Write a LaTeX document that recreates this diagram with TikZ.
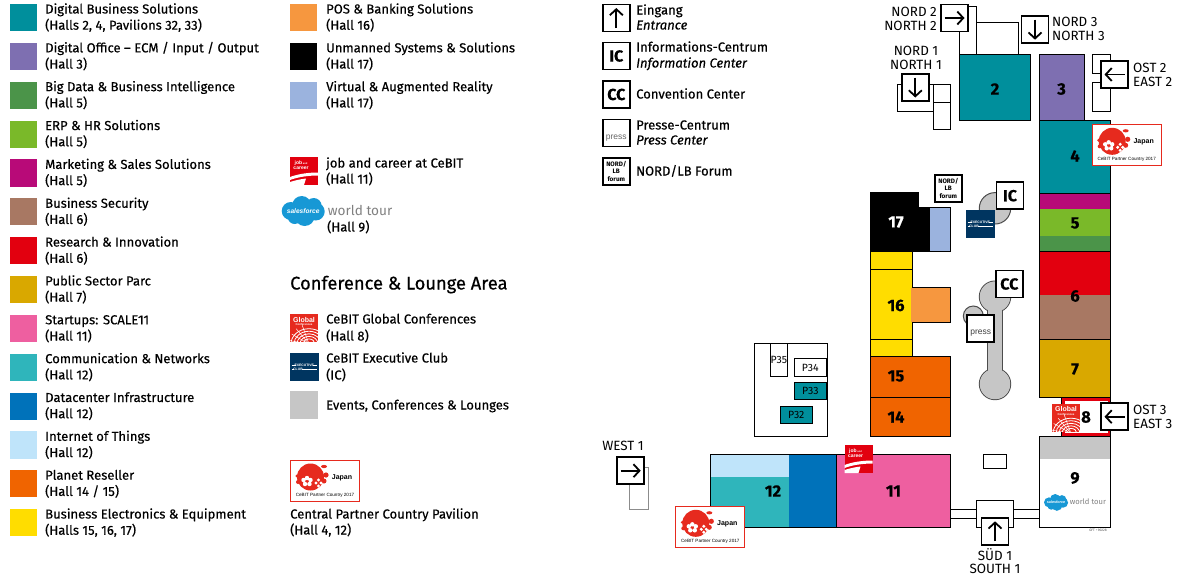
\documentclass[tikz,border=0pt]{standalone}
\usepackage{fontspec}
\usetikzlibrary{arrows.meta}
\setmainfont[FakeBold=0.35]{Fira Sans}
\newfontfamily\plainfont{Fira Sans}
\newfontfamily\headfont[FakeBold=0.5]{Fira Sans}
\newfontfamily\logofont{Liberation Sans}
\definecolor{cteal}{HTML}{008F9C}
\definecolor{cpurple}{HTML}{7E6FB1}
\definecolor{cdgreen}{HTML}{4B9449}
\definecolor{clime}{HTML}{7AB929}
\definecolor{cmag}{HTML}{B80A78}
\definecolor{cbrown}{HTML}{A87863}
\definecolor{cred}{HTML}{E2000F}
\definecolor{cgold}{HTML}{D9A800}
\definecolor{cpink}{HTML}{EE5FA0}
\definecolor{cturq}{HTML}{2FB5BB}
\definecolor{cblue}{HTML}{0072BA}
\definecolor{csky}{HTML}{BFE4FA}
\definecolor{corange}{HTML}{F06400}
\definecolor{cyellow}{HTML}{FFDD00}
\definecolor{cpos}{HTML}{F6973F}
\definecolor{clblue}{HTML}{9BB3DE}
\definecolor{cgray}{HTML}{C6C6C6}
\definecolor{cnavy}{HTML}{003560}
\definecolor{cjred}{HTML}{E62A1E}
\definecolor{csf}{HTML}{1798D5}
\tikzset{
  legtext/.style={anchor=base west,inner sep=0pt,font=\fontsize{13.05}{15}\selectfont,text=black},
  gatetext/.style={inner sep=0pt,font=\plainfont\fontsize{13.4}{16}\selectfont,text=black},
  hallnum/.style={inner sep=0pt,font=\fontsize{16.5}{18}\selectfont\bfseries,text=black},
  bld/.style={draw=black,line width=1pt,fill=white},
  gatebox/.style={draw=black,line width=1.6pt,fill=white},
  gatearrow/.style={draw=black,line width=1.8pt,-{Straight Barb[length=6pt,width=13pt,line width=1.8pt]}},
  pav/.style={inner sep=0pt,font=\plainfont\fontsize{10.5}{12}\selectfont,text=black},
}
\newcommand{\gate}[3]{\begin{scope}[shift={(#1+14,#2+14)}]
  \draw[gatebox] (-13.5pt,-13.5pt) rectangle (13.5pt,13.5pt);
  \begin{scope}[rotate=#3]\draw[gatearrow] (-10pt,0) -- (10pt,0);\end{scope}
\end{scope}}
\newcommand{\lbox}[3]{\begin{scope}[shift={(#1+14,#2+14)}]
  \draw[gatebox] (-13.5pt,-13.5pt) rectangle (13.5pt,13.5pt);
  #3
\end{scope}}
\newcommand{\icmark}[1]{\node[inner sep=0pt,font=\fontsize{16}{16}\selectfont\bfseries] at (0,0) {#1};}
\newcommand{\forummark}{\node[inner sep=0pt,align=center,font=\plainfont\fontsize{6.4}{7.6}\selectfont\bfseries] at (0,0) {NORD/\\LB\\forum};}
\newcommand{\japan}[2]{\begin{scope}[shift={(#1,#2)}]
  \draw[draw=cjred,line width=1pt,fill=white] (0.5,0.5) rectangle (69.5,41);
  \fill[cjred] (20.5,17) circle (13.5pt);
  \fill[cjred] (34,6.5) ellipse (3pt and 1.6pt) (36,15) circle (2.6pt) (34,21) circle (2.5pt) (8,22) circle (2pt) (7,16) circle (1.6pt);
  \fill[white] (17,18) circle (2.2pt) (13.5,20) circle (2.2pt) (20.5,20) circle (2.2pt) (15,24) circle (2.2pt) (19.5,24) circle (2.2pt);
  \fill[white] (28.5,20) circle (1.7pt) (26,23) circle (1.7pt) (31,23) circle (1.7pt) (28.5,26) circle (1.7pt);
  \node[inner sep=0pt,font=\logofont\bfseries\fontsize{7}{8}\selectfont] at (52,17.5) {Japan};
  \node[inner sep=0pt,font=\logofont\fontsize{4.6}{5}\selectfont] at (35,35.5) {CeBIT Partner Country 2017};
\end{scope}}
\newcommand{\jobcareer}[2]{\begin{scope}[shift={(#1,#2)}]
  \fill[cred] (0,0) rectangle (28,28);
  \node[inner sep=0pt,align=center,text=white,font=\logofont\bfseries\fontsize{5}{5.2}\selectfont] at (11,8.5) {job\,{\fontsize{2.5}{3}\selectfont and}\\career};
  \fill[white] (0,20) .. controls (8,17) and (18,15.5) .. (28,15.5) -- (28,18.5) .. controls (18,18.5) and (8,20) .. (0,23) -- cycle;
  \fill[white] (0,25) .. controls (6,23) and (12,22) .. (16,21.5) -- (14,28) -- (0,28) -- cycle;
\end{scope}}
\newcommand{\globalconf}[2]{\begin{scope}[shift={(#1,#2)}]
  \fill[cjred] (0,0) rectangle (28,28);
  \node[inner sep=0pt,text=white,font=\logofont\bfseries\fontsize{7}{7}\selectfont] at (14,5.5) {Global};
  \node[inner sep=0pt,text=white,font=\logofont\bfseries\fontsize{2.8}{3}\selectfont] at (14,10.5) {Conferences};
  \begin{scope}
    \clip (0,0) rectangle (28,28);
    \foreach \r in {6,9,12,15,18}{\draw[white,line width=0.8pt] (19,30) ellipse ({\r pt} and {\r*0.85 pt});}
    \foreach \a in {110,130,150,170}{\draw[white,line width=0.5pt] (19,30) -- +(\a:20pt);}
  \end{scope}
\end{scope}}
\newcommand{\execclub}[2]{\begin{scope}[shift={(#1,#2)}]
  \fill[cnavy] (0,0) rectangle (28.5,28);
  \node[inner sep=0pt,text=white,font=\logofont\bfseries\fontsize{3.4}{4}\selectfont] at (14.2,12) {EXECUTIVE};
  \node[inner sep=0pt,text=white,font=\logofont\bfseries\fontsize{3.4}{4}\selectfont] at (8,16.5) {CLUB};
  \draw[white,line width=0.4pt] (1.5,12) -- (5.5,12) (23,12) -- (27,12) (1.5,16.5) -- (4,16.5) (12,16.5) -- (27,16.5);
\end{scope}}
\newcommand{\salesforce}[3]{\begin{scope}[shift={(#1,#2)},scale=#3,transform shape]
  \fill[csf] (9,15) circle (9pt) (20,9.5) circle (9.5pt) (32,10) circle (8pt) (34,15.5) circle (9pt) (23,20) circle (10pt) (13,21) circle (7pt);
  \node[inner sep=0pt,text=white,font=\logofont\bfseries\itshape\fontsize{6.6}{7}\selectfont] at (21.5,15) {salesforce};
  \node[anchor=base west,inner sep=0pt,text=black!50,font=\plainfont\fontsize{13.6}{15}\selectfont] at (46,19) {world tour};
\end{scope}}
\begin{document}
\begin{tikzpicture}[x=1pt,y=-1pt]
\useasboundingbox (0,0) rectangle (1182,582);
\foreach \i/\c/\a/\b in {
 0/cteal/{Digital Business Solutions}/{(Halls 2, 4, Pavilions 32, 33)},
 1/cpurple/{Digital Office – ECM / Input / Output}/{(Hall 3)},
 2/cdgreen/{Big Data \& Business Intelligence}/{(Hall 5)},
 3/clime/{ERP \& HR Solutions}/{(Hall 5)},
 4/cmag/{Marketing \& Sales Solutions}/{(Hall 5)},
 5/cbrown/{Business Security}/{(Hall 6)},
 6/cred/{Research \& Innovation}/{(Hall 6)},
 7/cgold/{Public Sector Parc}/{(Hall 7)},
 8/cpink/{Startups: SCALE11}/{(Hall 11)},
 9/cturq/{Communication \& Networks}/{(Hall 12)},
 10/cblue/{Datacenter Infrastructure}/{(Hall 12)},
 11/csky/{Internet of Things}/{(Hall 12)},
 12/corange/{Planet Reseller}/{(Hall 14 / 15)},
 13/cyellow/{Business Electronics \& Equipment}/{(Halls 15, 16, 17)}}{
  \fill[\c] (10,{4+38.85*\i}) rectangle (37,{31.2+38.85*\i});
  \node[legtext] (la\i) at (45,{13.5+38.85*\i}) {\a};
  \node[legtext] (lb\i) at (45,{29.7+38.85*\i}) {\b};
}
\foreach \i/\c/\a/\b in {
 0/cpos/{POS \& Banking Solutions}/{(Hall 16)},
 1/black/{Unmanned Systems \& Solutions}/{(Hall 17)},
 2/clblue/{Virtual \& Augmented Reality}/{(Hall 17)}}{
  \fill[\c] (290,{4+38.85*\i}) rectangle (317,{31.2+38.85*\i});
  \node[legtext] (ma\i) at (326,{13.5+38.85*\i}) {\a};
  \node[legtext] (mb\i) at (326,{29.7+38.85*\i}) {\b};
}
\jobcareer{290}{157}
\node[legtext] (jc1) at (326,167.5) {job and career at CeBIT};
\node[legtext] (jc2) at (326,183.5) {(Hall 11)};
\salesforce{281.7}{196}{1}
\node[legtext] (sf2) at (327,231.5) {(Hall 9)};
\node[anchor=base west,inner sep=0pt,font=\headfont\fontsize{18.3}{20}\selectfont] (conf) at (290,289.5) {Conference \& Lounge Area};
\globalconf{290}{314}
\node[legtext] (gc1) at (326,323.5) {CeBIT Global Conferences};
\node[legtext] (gc2) at (326,340.5) {(Hall 8)};
\execclub{290}{353}
\node[legtext] (ec1) at (326,362.5) {CeBIT Executive Club};
\node[legtext] (ec2) at (326,379.5) {(IC)};
\fill[cgray] (290,391) rectangle (318,419);
\node[legtext] (ev) at (326,409.5) {Events, Conferences \& Lounges};
\japan{290}{460}
\node[legtext] (cp1) at (290,518.5) {Central Partner Country Pavilion};
\node[legtext] (cp2) at (290,534.5) {(Hall 4, 12)};
\gate{602.3}{4}{90}
\lbox{602.3}{42}{\icmark{IC}}
\lbox{602.3}{80.5}{\icmark{CC}}
\lbox{602.3}{119}{\node[inner sep=0pt,font=\logofont\fontsize{8.5}{9}\selectfont,text=black!60] at (0,-5pt) {press};}
\lbox{602.3}{157.3}{\forummark}
\node[legtext] (t1) at (636,14.5) {Eingang};
\node[legtext] (t2) at (636,29.5) {\itshape Entrance};
\node[legtext] (t3) at (636,51.5) {Informations-Centrum};
\node[legtext] (t4) at (636,67.5) {\itshape Information Center};
\node[legtext] (t5) at (636,98.5) {Convention Center};
\node[legtext] (t6) at (636,129.5) {Presse-Centrum};
\node[legtext] (t7) at (636,144.5) {\itshape Press Center};
\node[legtext] (t8) at (636,175.5) {NORD/LB Forum};
\draw[bld] (959.5,6) rectangle (976.7,54.5);
\draw[bld] (976.7,22.3) rectangle (1018.7,54.5);
\draw[bld] (897.3,84.3) rectangle (933.3,111.3);
\draw[bld] (933.3,84.3) rectangle (950.3,102.3);
\draw[bld] (933.3,102.3) rectangle (950.3,129.3);
\draw[bld] (1092.3,54.5) rectangle (1110.7,73.3);
\draw[bld] (1092.3,82.3) rectangle (1110.7,111.3);
\draw[draw=black!45,line width=1pt,fill=white] (629,467.3) rectangle (648.3,509.3);
\draw[bld,fill=cteal] (959.5,54.5) rectangle (1030.5,120.7);
\draw[bld,fill=cpurple] (1039.5,54.5) rectangle (1084,120.7);
\fill[cteal] (1039.5,120.7) rectangle (1110.5,193.5);
\fill[cmag] (1039.5,193.5) rectangle (1110.5,209);
\fill[clime] (1039.5,209) rectangle (1110.5,236);
\fill[cdgreen] (1039.5,236) rectangle (1110.5,251.7);
\fill[cred] (1039.5,251.7) rectangle (1110.5,295);
\fill[cbrown] (1039.5,295) rectangle (1110.5,339.3);
\fill[cgold] (1039.5,339.3) rectangle (1110.5,397.3);
\draw[black,line width=1pt] (1039.5,397.3) -- (1039.5,120.7) -- (1110.5,120.7) -- (1110.5,397.3) -- cycle
  (1039.5,193.5) -- (1110.5,193.5) (1039.5,251.7) -- (1110.5,251.7) (1039.5,339.3) -- (1110.5,339.3);
\draw[black,line width=1pt,fill=cred] (1061.3,397.3) rectangle (1110.5,436);
\fill[white] (1065,401) rectangle (1108,432.5);
\globalconf{1052}{403.5}
\draw[bld] (1039.5,436) rectangle (1110.5,527.3);
\fill[cgray] (1040,436.5) rectangle (1110,459);
\draw[black,line width=1pt] (1039.5,436) rectangle (1110.5,527.3);
\salesforce{1044}{494}{0.56}
\node[inner sep=0pt,font=\plainfont\fontsize{3.4}{3.4}\selectfont,text=black!70] (code) at (1098,530.5) {GFT • 90228};
\fill[black] (870.7,192.7) rectangle (930,251.7);
\fill[white] (919,192.7) rectangle (935,207.3);
\fill[clblue] (930,207.3) rectangle (950.7,251.7);
\draw[black,line width=1pt] (919,192.7) -- (870.7,192.7) -- (870.7,251.7) -- (950.7,251.7) -- (950.7,207.3) -- (930,207.3);
\fill[cyellow] (870.7,251.7) rectangle (912.3,356.3);
\draw[black,line width=1pt] (870.7,251.7) rectangle (912.3,356.3) (870.7,269.3) -- (912.3,269.3) (870.7,339.3) -- (912.3,339.3);
\draw[black,line width=1pt,fill=cpos] (912.3,287.3) rectangle (950.7,322.7);
\fill[cpos] (911,288) rectangle (913,322);
\draw[black,line width=1pt,fill=corange] (870.7,356.3) rectangle (950.7,397.3);
\draw[black,line width=1pt,fill=corange] (870.7,397.3) rectangle (950.7,436);
\draw[bld,fill=cpink] (836.3,454) rectangle (950.7,527.3);
\fill[cturq] (710,477) rectangle (789,527.3);
\fill[csky] (710,454) rectangle (789,477);
\fill[cblue] (789,454) rectangle (836.3,527.3);
\draw[black,line width=1pt] (710,454) rectangle (836.3,527.3);
\draw[bld] (950.7,509.3) rectangle (976.3,518.7);
\draw[bld] (1013.7,509.3) rectangle (1039.5,518.7);
\draw[bld] (976.3,500.3) rectangle (1013.7,527.3);
\draw[bld] (983.3,454.3) rectangle (1006.7,468.3);
\draw[bld] (754.7,343.7) rectangle (827.3,436.3);
\draw[bld] (770.3,343.7) rectangle (787.3,376.3);
\draw[bld] (794.3,358.3) rectangle (826.3,376.3);
\draw[bld,fill=cteal] (794.3,382.3) rectangle (826.3,399.7);
\draw[bld,fill=cteal] (780.3,406.3) rectangle (812.3,423.7);
\node[pav] (p35) at (778.8,360) {P35};
\node[pav] (p34) at (810.3,367.5) {P34};
\node[pav] (p33) at (810.3,391) {P33};
\node[pav] (p32) at (796.3,415) {P32};
\draw[draw=black!70,line width=1pt,fill=cgray] (995,208.3) circle (15.7pt);
\draw[draw=black!70,line width=1pt,fill=cgray] (973.3,316) circle (10pt);
\draw[draw=black!70,line width=1pt,fill=cgray] (995,296.7) circle (15.7pt);
\draw[draw=black!70,line width=1pt,fill=cgray] (995,384) circle (15.7pt);
\draw[draw=black!70,line width=1pt,fill=cgray] (987.7,300) rectangle (1002.3,375);
\fill[cgray] (995,296.7) circle (15.2pt) (995,384) circle (15.2pt) (988.2,300) rectangle (1001.8,376);
\execclub{966}{210}
\lbox{996}{181.7}{\icmark{IC}}
\lbox{995.3}{270}{\icmark{CC}}
\lbox{966.7}{314.3}{\node[inner sep=0pt,font=\logofont\fontsize{8.5}{9}\selectfont,text=black!75] at (0,-5pt) {press};}
\lbox{934.3}{174.3}{\forummark}
\japan{1091.7}{124.3}
\japan{675.3}{506.3}
\jobcareer{844.5}{445}
\node[hallnum] (h2) at (995,89) {2};
\node[hallnum] (h3) at (1061.5,89) {3};
\node[hallnum] (h4) at (1075,156) {4};
\node[hallnum] (h5) at (1075,223) {5};
\node[hallnum] (h6) at (1075,296) {6};
\node[hallnum] (h7) at (1075,369) {7};
\node[hallnum] (h8) at (1086,417) {8};
\node[hallnum] (h9) at (1075,478) {9};
\node[hallnum] (h11) at (893.5,491) {11};
\node[hallnum] (h12) at (773,491) {12};
\node[hallnum] (h14) at (896,417) {14};
\node[hallnum] (h15) at (896,376) {15};
\node[hallnum] (h16) at (896,305.5) {16};
\node[hallnum,text=white] (h17) at (896,222) {17};
\gate{940.5}{4}{0}
\gate{1021}{15.7}{270}
\gate{901.3}{73.5}{270}
\gate{1100.5}{60.5}{180}
\gate{1100.5}{402.7}{180}
\gate{616.7}{456.7}{0}
\gate{981}{517.3}{90}
\node[gatetext,anchor=east] (n2a) at (937,12) {NORD 2};
\node[gatetext,anchor=east] (n2b) at (937,26) {NORTH 2};
\node[gatetext,anchor=west] (n3a) at (1052,22) {NORD 3};
\node[gatetext,anchor=west] (n3b) at (1052,36) {NORTH 3};
\node[gatetext] (n1a) at (916,51) {NORD 1};
\node[gatetext] (n1b) at (916,65) {NORTH 1};
\node[gatetext,anchor=west] (o2a) at (1133,68) {OST 2};
\node[gatetext,anchor=west] (o2b) at (1133,82) {EAST 2};
\node[gatetext,anchor=west] (o3a) at (1133,409.5) {OST 3};
\node[gatetext,anchor=west] (o3b) at (1133,424) {EAST 3};
\node[gatetext] (w1) at (623,446) {WEST 1};
\node[gatetext] (s1a) at (995,555) {SÜD 1};
\node[gatetext] (s1b) at (995,569) {SOUTH 1};
\end{tikzpicture}
\end{document}
